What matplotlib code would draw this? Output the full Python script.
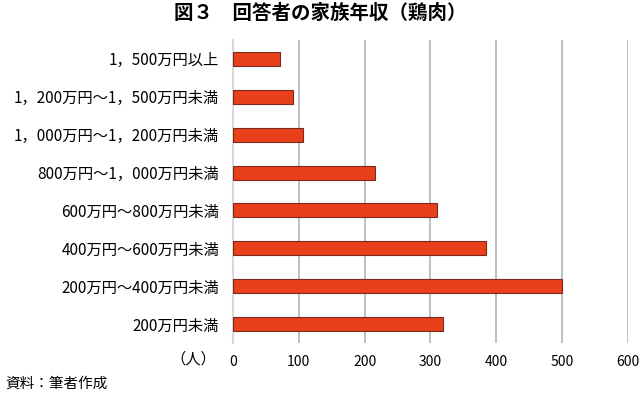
#!/usr/bin/env python3

import matplotlib
matplotlib.use('Agg')
import matplotlib.pyplot as plt

plt.rcParams['font.family'] = ['Noto Sans CJK JP', 'DejaVu Sans']

# categories top to bottom as in the figure
CATEGORIES = [
    '1，500万円以上',
    '1，200万円～1，500万円未満',
    '1，000万円～1，200万円未満',
    '800万円～1，000万円未満',
    '600万円～800万円未満',
    '400万円～600万円未満',
    '200万円～400万円未満',
    '200万円未満',
]
COUNTS = [71, 91, 107, 216, 310, 384, 500, 319]
XTICKS = [0, 100, 200, 300, 400, 500, 600]

TITLE = '図３　回答者の家族年収（鶏肉）'
UNIT = '（人）'
SOURCE = '資料：筆者作成'

fig = plt.figure(figsize=(6.4, 3.96), dpi=100)
ax = fig.add_axes([0.364, 0.134, 0.617, 0.765])

ypos = list(range(len(CATEGORIES)))
ax.barh(ypos, COUNTS, height=0.37, color='#e9401c', edgecolor='#7a2a1a',
        linewidth=0.8, zorder=3)

ax.set_ylim(len(CATEGORIES) - 0.5, -0.5)
ax.set_xlim(0, 600)
ax.set_yticks(ypos, CATEGORIES, fontsize=11)
ax.set_xticks(XTICKS, [str(t) for t in XTICKS], fontsize=10)
ax.tick_params(axis='both', length=0, pad=10)
ax.tick_params(axis='x', pad=9)

for s in ['top', 'right', 'bottom']:
    ax.spines[s].set_visible(False)
ax.spines['left'].set_color('#d9d9d9')
ax.spines['left'].set_linewidth(1.5)

for t in XTICKS[1:]:
    ax.axvline(t, color='#bababa', linewidth=1.3, zorder=1)

fig.text(0.5, 0.965, TITLE, ha='center', va='center', fontsize=14,
         fontweight='bold')
fig.text(0.337, 0.094, UNIT, ha='right', va='center', fontsize=11)
fig.text(0.008, 0.03, SOURCE, ha='left', va='center', fontsize=10.5)

fig.savefig('out.png', dpi=100)
